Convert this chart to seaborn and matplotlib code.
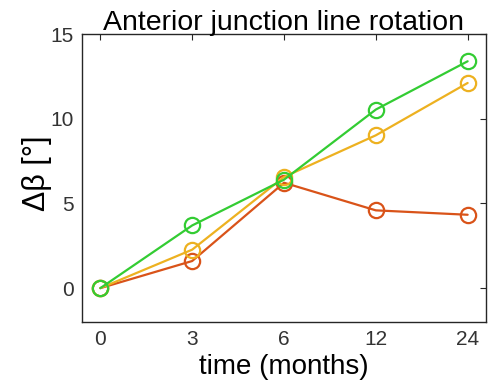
import matplotlib
matplotlib.use("Agg")
import matplotlib.pyplot as plt
import seaborn as sns
import pandas as pd

# Follow-up time points (months) and rotation change per group
time_labels = ["0", "3", "6", "12", "24"]
group_red = [0.0, 1.60, 6.22, 4.59, 4.33]
group_orange = [0.0, 2.27, 6.56, 9.02, 12.11]
group_green = [0.0, 3.70, 6.40, 10.54, 13.39]
groups = ["red", "orange", "green"]
palette = {"red": "#d95319", "orange": "#edb120", "green": "#33cc33"}

rows = []
for name, vals in zip(groups, [group_red, group_orange, group_green]):
    for i, v in enumerate(vals):
        rows.append({"pos": i, "delta": v, "group": name})
df = pd.DataFrame(rows)

sns.set_theme(style="white")
plt.rcParams["font.family"] = ["Liberation Sans", "DejaVu Sans"]

fig = plt.figure(figsize=(4.89, 3.82), dpi=100)
ax = fig.add_axes([82 / 489, 1 - 322 / 382, (486 - 82) / 489, (322 - 34) / 382])

sns.lineplot(data=df, x="pos", y="delta", hue="group", hue_order=groups,
             palette=palette, marker="o", markersize=11, markerfacecolor="none",
             markeredgewidth=1.6, linewidth=1.6, legend=False, ax=ax)
for ln in ax.lines:
    ln.set_markeredgecolor(ln.get_color())
    ln.set_markerfacecolor("none")

ax.set_xlim(-0.2, 4.2)
ax.set_ylim(-2, 15)
ax.set_xticks(range(len(time_labels)))
ax.set_xticklabels(time_labels)
ax.set_yticks([0, 5, 10, 15])
ax.tick_params(direction="in", length=4, width=0.8, colors="#262626",
               labelsize=15, top=True, right=True, pad=6)
for lbl in ax.get_xticklabels() + ax.get_yticklabels():
    lbl.set_color("#333333")
for sp in ax.spines.values():
    sp.set_color("#262626")
    sp.set_linewidth(1.0)

ax.set_xlabel("time (months)", fontsize=20, color="black", labelpad=3)
ax.set_ylabel("Δβ [°]", fontsize=22, color="black")
ax.yaxis.set_label_coords(-0.075, 0.517)
ax.set_title("Anterior junction line rotation", fontsize=20.5, color="black", pad=3)

fig.savefig("out.png", dpi=100)
